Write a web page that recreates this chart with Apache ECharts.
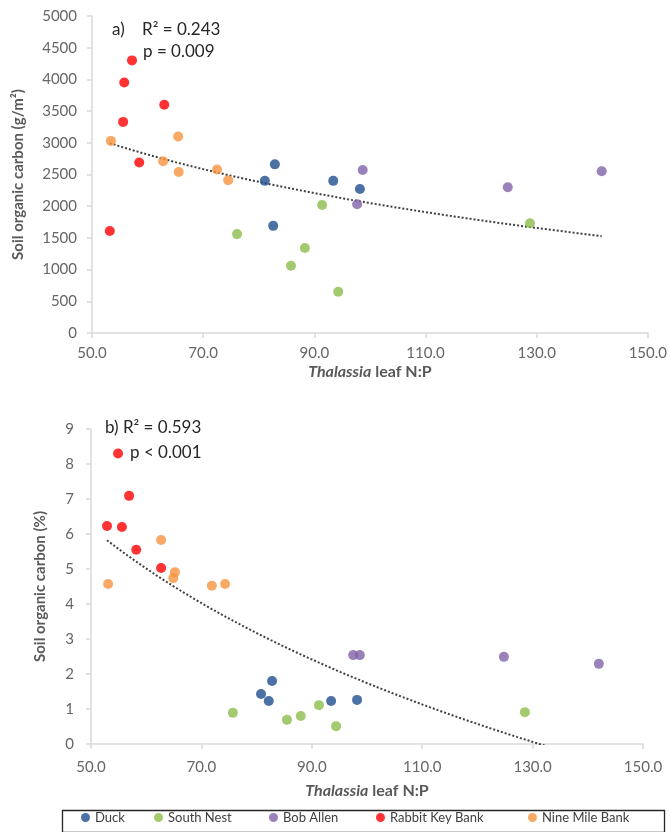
<!DOCTYPE html>
<html>
<head>
<meta charset="utf-8">
<script src="https://cdn.jsdelivr.net/npm/echarts@6/dist/echarts.min.js"></script>
<style>
html,body{margin:0;padding:0;background:#fff;}
#chart{width:670px;height:832px;}
</style>
</head>
<body>
<div id="chart"></div>
<script>
// ---- Data ----
var siteNames = ['Duck', 'South Nest', 'Bob Allen', 'Rabbit Key Bank', 'Nine Mile Bank'];
var siteColors = ['#1f4e8f', '#8cbd4a', '#8063a8', '#ff0000', '#f7943e'];

// Panel a) Soil organic carbon (g/m2) vs Thalassia leaf N:P
var aDuckX = [81.1, 82.9, 82.6, 93.4, 98.2];
var aDuckY = [2400, 2660, 1690, 2400, 2270];
var aSouthNestX = [76.1, 91.4, 88.3, 85.8, 94.3, 128.8];
var aSouthNestY = [1560, 2020, 1340, 1060, 650, 1730];
var aBobAllenX = [98.7, 97.7, 124.8, 141.7];
var aBobAllenY = [2570, 2030, 2300, 2550];
var aRabbitX = [57.2, 55.8, 55.6, 63.0, 58.5, 53.2];
var aRabbitY = [4300, 3950, 3330, 3600, 2690, 1610];
var aNineMileX = [53.4, 65.5, 62.8, 65.6, 72.5, 74.5];
var aNineMileY = [3030, 3100, 2710, 2540, 2580, 2410];

// Panel b) Soil organic carbon (%) vs Thalassia leaf N:P
var bDuckX = [80.8, 82.2, 82.8, 93.5, 98.2];
var bDuckY = [1.43, 1.23, 1.80, 1.23, 1.26];
var bSouthNestX = [75.7, 85.5, 88.0, 91.3, 94.4, 128.6];
var bSouthNestY = [0.89, 0.69, 0.80, 1.11, 0.51, 0.91];
var bBobAllenX = [97.5, 98.7, 124.8, 142.0];
var bBobAllenY = [2.54, 2.54, 2.49, 2.29];
var bRabbitX = [54.9, 56.9, 52.9, 55.6, 58.2, 62.7];
var bRabbitY = [8.30, 7.09, 6.23, 6.20, 5.55, 5.03];
var bNineMileX = [53.1, 62.7, 65.2, 64.9, 71.9, 74.3];
var bNineMileY = [4.57, 5.83, 4.91, 4.74, 4.52, 4.57];

var xTicks = [50, 70, 90, 110, 130, 150];
var aYTicks = [0, 500, 1000, 1500, 2000, 2500, 3000, 3500, 4000, 4500, 5000];
var bYTicks = [0, 1, 2, 3, 4, 5, 6, 7, 8, 9];
var aStats = ['a)    R\u00b2 = 0.243', 'p = 0.009'];
var bStats = ['b) R\u00b2 = 0.593', 'p < 0.001'];

// ---- helpers ----
function zip(xs, ys) { return xs.map(function (x, i) { return [x, ys[i]]; }); }
// Logarithmic least-squares trendline (y = a + b ln x), as Excel draws it
function logTrend(xs, ys) {
  var n = xs.length, sl = 0, sy = 0, sll = 0, sly = 0;
  for (var i = 0; i < n; i++) {
    var l = Math.log(xs[i]);
    sl += l; sy += ys[i]; sll += l * l; sly += l * ys[i];
  }
  var b = (n * sly - sl * sy) / (n * sll - sl * sl);
  var a = (sy - b * sl) / n;
  var xmin = Math.min.apply(null, xs), xmax = Math.max.apply(null, xs);
  var pts = [];
  var steps = 120;
  for (var k = 0; k <= steps; k++) {
    var x = xmin + (xmax - xmin) * k / steps;
    pts.push([x, a + b * Math.log(x)]);
  }
  return pts;
}

var aSets = [[aDuckX, aDuckY], [aSouthNestX, aSouthNestY], [aBobAllenX, aBobAllenY], [aRabbitX, aRabbitY], [aNineMileX, aNineMileY]];
var bSets = [[bDuckX, bDuckY], [bSouthNestX, bSouthNestY], [bBobAllenX, bBobAllenY], [bRabbitX, bRabbitY], [bNineMileX, bNineMileY]];

function allOf(sets, idx) { var r = []; sets.forEach(function (s) { r = r.concat(s[idx]); }); return r; }

var FONT = 'Lato';
var LABEL_COLOR = '#666666';
var TITLE_COLOR = '#595959';
var AXIS_COLOR = '#d9d9d9';

function xAxisDef(gridIndex, gap, margin) {
  return {
    type: 'value', gridIndex: gridIndex, min: xTicks[0], max: xTicks[xTicks.length - 1], interval: 20,
    splitLine: { show: false },
    axisLine: { show: true, lineStyle: { color: AXIS_COLOR, width: 1.5 } },
    axisTick: { show: true, inside: false, length: 5, lineStyle: { color: AXIS_COLOR, width: 1.5 } },
    axisLabel: { color: LABEL_COLOR, fontFamily: FONT, fontSize: 15, margin: margin,
      formatter: function (v) { return v.toFixed(1); } },
    name: '{i|Thalassia}{n| leaf N:P}',
    nameLocation: 'middle', nameGap: gap,
    nameTextStyle: {
      rich: {
        i: { fontStyle: 'italic', fontWeight: 'bold', color: TITLE_COLOR, fontFamily: FONT, fontSize: 16 },
        n: { fontWeight: 'bold', color: TITLE_COLOR, fontFamily: FONT, fontSize: 16 }
      }
    }
  };
}
function yAxisDef(gridIndex, ticks, interval, name, gap, margin) {
  return {
    type: 'value', gridIndex: gridIndex, min: ticks[0], max: ticks[ticks.length - 1], interval: interval,
    splitLine: { show: false },
    axisLine: { show: true, lineStyle: { color: AXIS_COLOR, width: 1.5 } },
    axisTick: { show: true, length: 5, lineStyle: { color: AXIS_COLOR, width: 1.5 } },
    axisLabel: { color: LABEL_COLOR, fontFamily: FONT, fontSize: 15, margin: margin,
      formatter: function (v) { return String(v); } },
    name: name, nameLocation: 'middle', nameGap: gap,
    nameTextStyle: { color: TITLE_COLOR, fontFamily: FONT, fontSize: 15, fontWeight: 'bold' }
  };
}

var series = [];
function addPanel(sets, axisIndex) {
  sets.forEach(function (s, i) {
    series.push({
      name: siteNames[i], type: 'scatter', xAxisIndex: axisIndex, yAxisIndex: axisIndex,
      symbol: 'circle', symbolSize: 10, itemStyle: { color: siteColors[i] },
      data: zip(s[0], s[1]), z: 3
    });
  });
  series.push({
    name: 'trend' + axisIndex, type: 'line', xAxisIndex: axisIndex, yAxisIndex: axisIndex,
    data: logTrend(allOf(sets, 0), allOf(sets, 1)), showSymbol: false, silent: true,
    clip: true, smooth: false, z: 2,
    lineStyle: { color: '#404040', width: 2, type: [2, 2] }
  });
}
addPanel(aSets, 0);
addPanel(bSets, 1);

function statText(txt, left, top) {
  return { type: 'text', left: left, top: top,
    style: { text: txt, font: '17px ' + FONT, fill: '#262626' } };
}

// one legend per site so each entry sits where the reference puts it
var legendLefts = [81, 154, 269, 376, 528];
var legends = siteNames.map(function (nm, i) {
  return {
    data: [nm], left: legendLefts[i], top: 811, itemWidth: 9, itemHeight: 9, icon: 'circle',
    textStyle: { color: '#404040', fontFamily: FONT, fontSize: 13 }, padding: 0
  };
});

var chart = echarts.init(document.getElementById('chart'), null, { renderer: 'canvas' });
chart.setOption({
  backgroundColor: '#ffffff',
  animation: false,
  grid: [
    { left: 92, right: 22, top: 16, height: 317 },
    { left: 91, right: 27, top: 429, height: 315 }
  ],
  xAxis: [xAxisDef(0, 31, 13), xAxisDef(1, 39, 16)],
  yAxis: [
    yAxisDef(0, aYTicks, 500, 'Soil organic carbon (g/m\u00b2)', 66, 15),
    yAxisDef(1, bYTicks, 1, 'Soil organic carbon (%)', 43, 17)
  ],
  legend: legends,
  graphic: [
    { type: 'rect', left: 60, top: 808, shape: { width: 602, height: 22 },
      style: { fill: 'none', stroke: '#262626', lineWidth: 1.3 } },
    statText(aStats[0], 112, 21),
    statText(aStats[1], 143, 43),
    statText(bStats[0], 105, 419),
    statText(bStats[1], 130, 444)
  ],
  series: series
});
</script>
</body>
</html>
